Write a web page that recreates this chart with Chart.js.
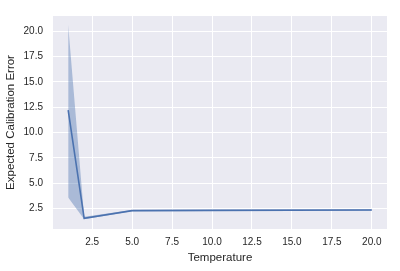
<!DOCTYPE html>
<html>
<head>
<meta charset="utf-8">
<script src="https://cdn.jsdelivr.net/npm/chart.js@4/dist/chart.umd.min.js"></script>
<style>
  html, body { margin: 0; padding: 0; background: #ffffff; }
  #wrap { width: 400px; height: 271px; position: relative; }
</style>
</head>
<body>
<div id="wrap"><canvas id="c" width="400" height="271"></canvas></div>
<script>
const temperatures = [1, 2, 5, 10, 20];
const eceMean = [12.2, 1.55, 2.3, 2.33, 2.37];
const ciUpper = [20.6, 1.7, 2.36, 2.4, 2.44];
const ciLower = [3.6, 1.44, 2.24, 2.26, 2.3];
const xTicks = [2.5, 5.0, 7.5, 10.0, 12.5, 15.0, 17.5, 20.0];
const yTicks = [2.5, 5.0, 7.5, 10.0, 12.5, 15.0, 17.5, 20.0];

const toPts = (ys) => temperatures.map((x, i) => ({ x: x, y: ys[i] }));
const FONT = "'Liberation Sans', Arial, sans-serif";
const TXT = '#262626';

const bgPlugin = {
  id: 'bg',
  beforeDraw(chart) {
    const { ctx, chartArea: a } = chart;
    ctx.save();
    ctx.fillStyle = '#EAEAF2';
    ctx.fillRect(a.left, a.top, a.right - a.left, a.bottom - a.top);
    ctx.restore();
  }
};

new Chart(document.getElementById('c'), {
  type: 'line',
  data: {
    datasets: [
      { data: toPts(ciUpper), borderWidth: 0, pointRadius: 0, fill: '+1',
        backgroundColor: 'rgba(76,114,176,0.4)', borderColor: 'rgba(0,0,0,0)', tension: 0 },
      { data: toPts(ciLower), borderWidth: 0, pointRadius: 0, fill: false,
        borderColor: 'rgba(0,0,0,0)', tension: 0 },
      { data: toPts(eceMean), borderWidth: 1.6, pointRadius: 0, fill: false,
        borderColor: '#4C72B0', tension: 0 }
    ]
  },
  plugins: [bgPlugin],
  options: {
    responsive: false,
    animation: false,
    devicePixelRatio: 1,
    layout: { padding: { top: 14, right: 13, left: 0, bottom: 0 } },
    plugins: { legend: { display: false }, tooltip: { enabled: false } },
    scales: {
      x: {
        type: 'linear', min: 0.05, max: 20.95,
        afterBuildTicks: (s) => { s.ticks = xTicks.map(v => ({ value: v })); },
        afterFit: (s) => { s.height = 42; },
        grid: { color: '#ffffff', lineWidth: 1, drawTicks: false },
        border: { display: false },
        ticks: { color: TXT, font: { family: FONT, size: 10 }, padding: 7, maxRotation: 0,
                 callback: (v) => Number(v).toFixed(1) },
        title: { display: true, text: 'Temperature', color: TXT,
                 font: { family: FONT, size: 11.5 }, padding: { top: 0, bottom: 6 } }
      },
      y: {
        type: 'linear', min: 0.49, max: 21.49,
        afterBuildTicks: (s) => { s.ticks = yTicks.map(v => ({ value: v })); },
        afterFit: (s) => { s.width = 53; },
        grid: { color: '#ffffff', lineWidth: 1, drawTicks: false },
        border: { display: false },
        ticks: { color: TXT, font: { family: FONT, size: 10 }, padding: 10,
                 callback: (v) => Number(v).toFixed(1) },
        title: { display: true, text: 'Expected Calibration Error', color: TXT,
                 font: { family: FONT, size: 11.5 }, padding: { top: 4, bottom: 0 } }
      }
    }
  }
});
</script>
</body>
</html>
